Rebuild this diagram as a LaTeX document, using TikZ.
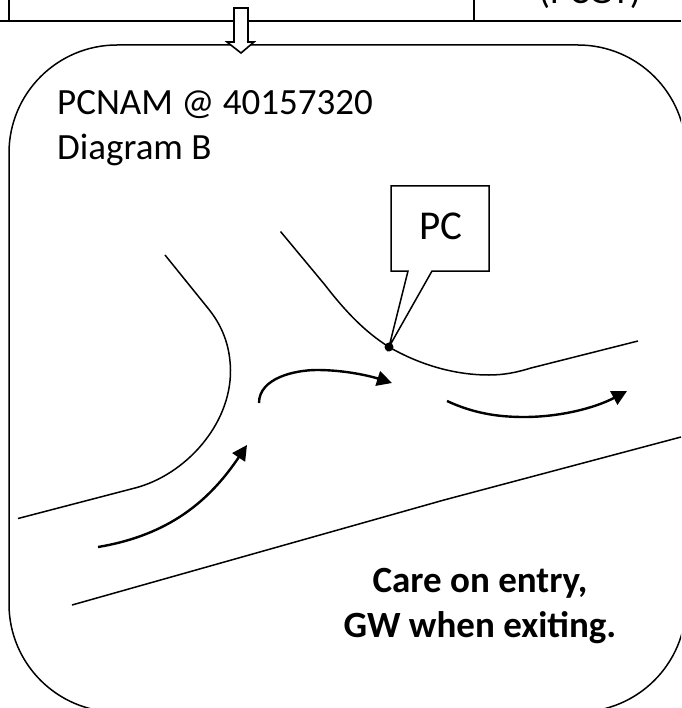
\documentclass[tikz,border=0pt]{standalone}
\usepackage{fontspec}
\setmainfont{Carlito}
\usetikzlibrary{arrows.meta}
\tikzset{
 road/.style={draw=black,line width=1.5pt},
 mv/.style={draw=black,line width=2.4pt,-{Triangle[length=15pt,width=15pt]}},
 tblline/.style={draw=black,line width=2pt},
 lab/.style={font=\fontsize{37}{45}\selectfont,anchor=base west,inner sep=0pt},
 note/.style={font=\fontsize{37}{45}\selectfont\bfseries,align=center,inner sep=0pt},
}
\begin{document}
\begin{tikzpicture}[x=1pt,y=-1pt]
\useasboundingbox (0,0) rectangle (681,708);
\clip (0,0) rectangle (681,708);
\fill[white] (0,0) rectangle (681,708);
\coordinate (tl) at (0,21);\coordinate (tr) at (681,21);
\coordinate (v1a) at (9,0);\coordinate (v1b) at (9,21);
\coordinate (v2a) at (474,0);\coordinate (v2b) at (474,21);
\draw[tblline] (tl)--(tr);
\draw[tblline,line width=1.5pt] (v1a)--(v1b);
\draw[tblline,line width=1.5pt] (v2a)--(v2b);
\node[font=\fontsize{37}{45}\selectfont,anchor=base,inner sep=0pt] (pcgt) at (590,4) {(PCGT)};
% panel
\draw[line width=1.5pt,rounded corners=108pt] (9,45) rectangle (686,712);
% block arrow
\draw[line width=1.6pt,fill=white,line join=miter]
 (234,8) -- (248,8) -- (248,42) -- (254,42) -- (241,53) -- (227,42) -- (234,42) -- cycle;
% labels
\node[lab] (t1) at (57,115) {PCNAM @ 40157320};
\node[lab] (t2) at (57,160) {Diagram B};
% roads
\coordinate (a1) at (165,255);\coordinate (b1) at (280.5,231.5);\coordinate (pt) at (389,347);
\draw[road] (a1) -- (207,307) .. controls (222,325) and (230,345) .. (230.5,370)
 .. controls (231,425) and (185,475) .. (135,488) -- (18,518.5);
\draw[road] (b1) -- (325,285) .. controls (345,311) and (365,332) .. (pt)
 .. controls (420,365) and (455,375) .. (489,375)
 .. controls (505,375) and (518,372) .. (531,368) -- (638,341);
\draw[road] (72,605) -- (444,500) -- (681,437);
% movement arrows
\coordinate (m1) at (98,547);\coordinate (m2) at (247,445);
\coordinate (m3) at (259,403);\coordinate (m3b) at (317,370);\coordinate (m4) at (392,383);
\coordinate (m5) at (447,401);\coordinate (m5b) at (524,417);\coordinate (m6) at (627,391);
\draw[mv] (m1) .. controls (170,535) and (210,500) .. (m2);
\draw[mv] (m3) .. controls (259,378) and (295,370) .. (m3b) .. controls (345,370) and (370,376) .. (m4);
\draw[mv] (m5) .. controls (475,414) and (500,417) .. (m5b) .. controls (560,417) and (595,408) .. (m6);
% callout
\draw[line width=1.5pt,line join=miter,fill=white] (391,186) -- (489,186) -- (489,271) -- (432,271) -- (pt) -- (408,271) -- (391,271) -- cycle;
\node[font=\fontsize{41}{44}\selectfont,inner sep=0pt] (pc) at (441,226) {PC};
\fill (pt) circle (4.5);
% note
\node[note] (n) at (480,606) {Care on entry,\\GW when exiting.};
\end{tikzpicture}
\end{document}
